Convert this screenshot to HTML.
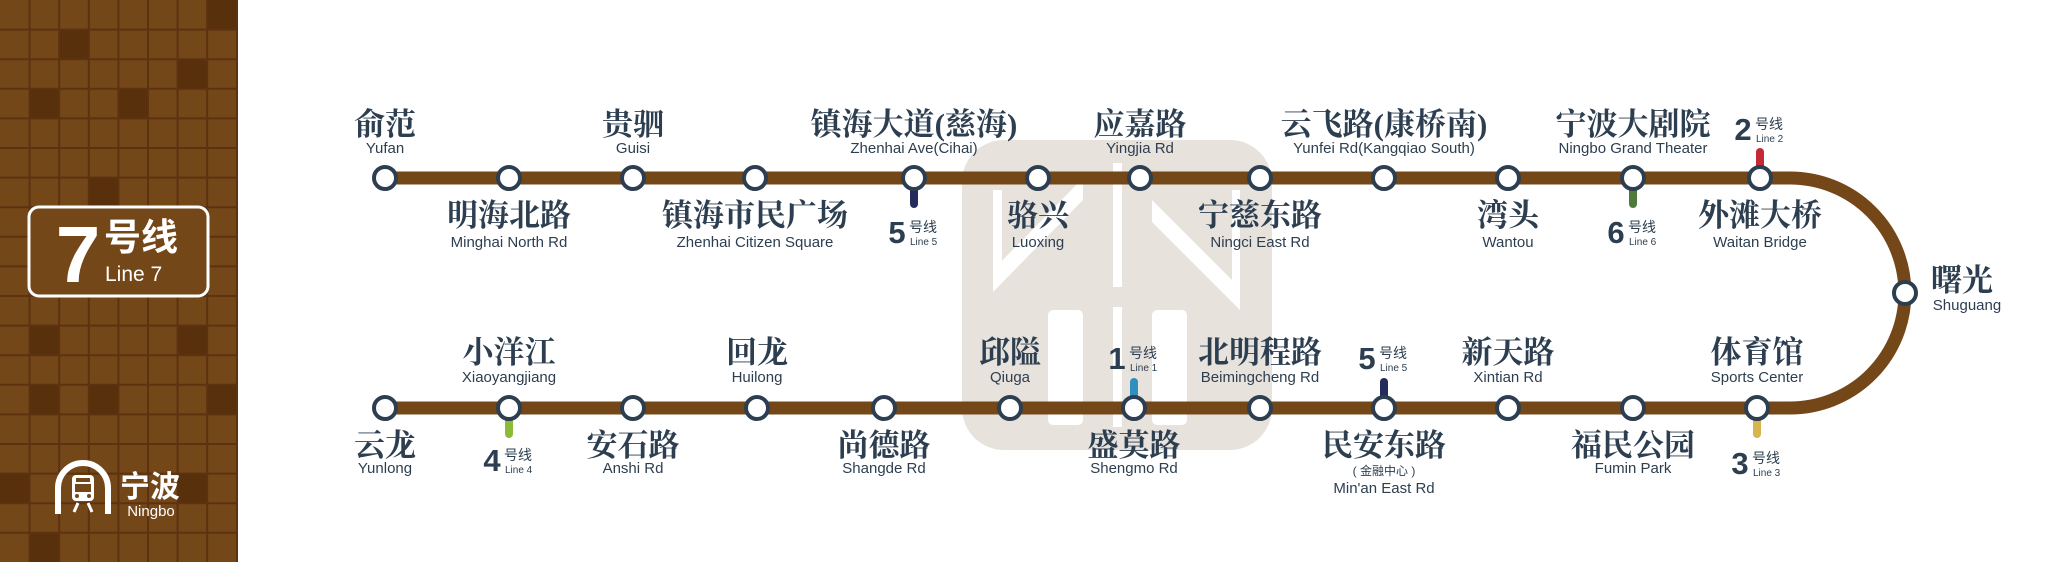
<!DOCTYPE html>
<html><head><meta charset="utf-8"><style>
html,body{margin:0;padding:0;background:#fff;}
svg{display:block}
.zh{font-family:"Liberation Serif","Noto Serif CJK SC",serif;font-weight:700;font-size:31px;fill:#2c3e50;text-anchor:middle}
.en{font-family:"Liberation Sans Narrow","Liberation Sans",sans-serif;font-size:15px;fill:#2c3e50;text-anchor:middle}
.dg{font-family:"Liberation Sans",sans-serif;font-weight:700;font-size:31px;fill:#2c3e50;text-anchor:middle}
.hx{font-family:"Liberation Sans","Noto Sans CJK SC",sans-serif;font-size:14px;fill:#2c3e50}
.ln{font-family:"Liberation Sans Narrow","Liberation Sans",sans-serif;font-size:10px;fill:#2c3e50}
</style></head><body>
<svg width="2048" height="562" viewBox="0 0 2048 562" xmlns="http://www.w3.org/2000/svg">
<rect x="0" y="0" width="238" height="562" fill="#744719"/>
<g fill="#58300c">
<rect x="207" y="0" width="30" height="30"/>
<rect x="59" y="30" width="30" height="30"/>
<rect x="178" y="59" width="30" height="30"/>
<rect x="30" y="89" width="30" height="30"/>
<rect x="118" y="89" width="30" height="30"/>
<rect x="89" y="178" width="30" height="30"/>
<rect x="30" y="326" width="30" height="30"/>
<rect x="178" y="326" width="30" height="30"/>
<rect x="30" y="385" width="30" height="30"/>
<rect x="89" y="385" width="30" height="30"/>
<rect x="207" y="385" width="30" height="30"/>
<rect x="0" y="474" width="30" height="30"/>
<rect x="178" y="474" width="30" height="30"/>
<rect x="30" y="533" width="30" height="30"/>
</g>
<g stroke="#5c3210" stroke-width="2">
<line x1="29.6" y1="0" x2="29.6" y2="562"/><line x1="59.2" y1="0" x2="59.2" y2="562"/><line x1="88.8" y1="0" x2="88.8" y2="562"/><line x1="118.4" y1="0" x2="118.4" y2="562"/><line x1="148" y1="0" x2="148" y2="562"/><line x1="177.6" y1="0" x2="177.6" y2="562"/><line x1="207.2" y1="0" x2="207.2" y2="562"/><line x1="237" y1="0" x2="237" y2="562"/>
<line x1="0" y1="29.6" x2="238" y2="29.6"/><line x1="0" y1="59.2" x2="238" y2="59.2"/><line x1="0" y1="88.8" x2="238" y2="88.8"/><line x1="0" y1="118.4" x2="238" y2="118.4"/><line x1="0" y1="148" x2="238" y2="148"/><line x1="0" y1="177.6" x2="238" y2="177.6"/><line x1="0" y1="207.2" x2="238" y2="207.2"/><line x1="0" y1="236.8" x2="238" y2="236.8"/><line x1="0" y1="266.4" x2="238" y2="266.4"/><line x1="0" y1="296" x2="238" y2="296"/><line x1="0" y1="325.6" x2="238" y2="325.6"/><line x1="0" y1="355.2" x2="238" y2="355.2"/><line x1="0" y1="384.8" x2="238" y2="384.8"/><line x1="0" y1="414.4" x2="238" y2="414.4"/><line x1="0" y1="444" x2="238" y2="444"/><line x1="0" y1="473.6" x2="238" y2="473.6"/><line x1="0" y1="503.2" x2="238" y2="503.2"/><line x1="0" y1="532.8" x2="238" y2="532.8"/>
</g>
<rect x="29" y="207" width="179" height="89" rx="10" fill="#744719" stroke="#fff" stroke-width="3"/>
<text x="78" y="282" font-family="Liberation Sans,sans-serif" font-weight="700" font-size="80" fill="#fff" text-anchor="middle">7</text>
<text x="104" y="250" font-family="Liberation Sans,'Noto Sans CJK SC',sans-serif" font-weight="700" font-size="37" fill="#fff">号线</text>
<text x="105" y="281" font-family="Liberation Sans,sans-serif" font-size="21" fill="#fff">Line 7</text>
<path d="M58 514 V488 A25 25 0 0 1 108 488 V514" fill="none" stroke="#fff" stroke-width="6"/>
<rect x="72" y="475" width="22" height="26" rx="4" fill="#fff"/>
<rect x="76" y="478" width="14" height="4" fill="#744719"/>
<rect x="75" y="484" width="16" height="8" fill="#744719"/>
<circle cx="77" cy="496" r="2" fill="#744719"/><circle cx="89" cy="496" r="2" fill="#744719"/>
<path d="M74 512 L78 503 M92 512 L88 503" stroke="#fff" stroke-width="3"/>
<text x="150" y="497" font-family="Liberation Sans,'Noto Sans CJK SC',sans-serif" font-weight="700" font-size="30" fill="#fff" text-anchor="middle">宁波</text>
<text x="151" y="516" font-family="Liberation Sans,sans-serif" font-size="15" fill="#fff" text-anchor="middle">Ningbo</text>

<!-- watermark -->
<rect x="962" y="140" width="310" height="310" rx="42" fill="#e7e2dc"/>
<g fill="#fff">
<rect x="1113" y="163" width="9" height="124"/>
<rect x="1113" y="307" width="9" height="120"/>
<polygon points="993,270 1083,178 1083,200 993,292"/>
<polygon points="1152,200 1240,288 1240,310 1152,222"/>
<rect x="1048" y="310" width="35" height="115" rx="5"/>
<rect x="1152" y="310" width="35" height="115" rx="5"/>
<rect x="993" y="190" width="9" height="80"/>
<rect x="1232" y="190" width="8" height="98"/>
</g>

<path d="M385 178 H1790 A115 115 0 0 1 1790 408 H385" fill="none" stroke="#744719" stroke-width="13"/>

<g stroke-linecap="round" stroke-width="8">
<line x1="914" y1="190" x2="914" y2="204" stroke="#242c5c"/>
<line x1="1633" y1="190" x2="1633" y2="204" stroke="#4e7a3c"/>
<line x1="1760" y1="152" x2="1760" y2="166" stroke="#c42a36"/>
<line x1="509" y1="420" x2="509" y2="434" stroke="#8cbb3c"/>
<line x1="1134" y1="382" x2="1134" y2="396" stroke="#2f8fbf"/>
<line x1="1384" y1="382" x2="1384" y2="396" stroke="#242c5c"/>
<line x1="1757" y1="420" x2="1757" y2="434" stroke="#d6b550"/>
</g>

<g fill="#fff" stroke="#2c3e50" stroke-width="4">
<circle cx="385" cy="178" r="11"/><circle cx="509" cy="178" r="11"/><circle cx="633" cy="178" r="11"/><circle cx="755" cy="178" r="11"/><circle cx="914" cy="178" r="11"/><circle cx="1038" cy="178" r="11"/><circle cx="1140" cy="178" r="11"/><circle cx="1260" cy="178" r="11"/><circle cx="1384" cy="178" r="11"/><circle cx="1508" cy="178" r="11"/><circle cx="1633" cy="178" r="11"/><circle cx="1760" cy="178" r="11"/>
<circle cx="1905" cy="293" r="11"/>
<circle cx="385" cy="408" r="11"/><circle cx="509" cy="408" r="11"/><circle cx="633" cy="408" r="11"/><circle cx="757" cy="408" r="11"/><circle cx="884" cy="408" r="11"/><circle cx="1010" cy="408" r="11"/><circle cx="1134" cy="408" r="11"/><circle cx="1260" cy="408" r="11"/><circle cx="1384" cy="408" r="11"/><circle cx="1508" cy="408" r="11"/><circle cx="1633" cy="408" r="11"/><circle cx="1757" cy="408" r="11"/>
</g>

<text class="zh" x="385" y="135">俞范</text><text class="en" x="385" y="153">Yufan</text>
<text class="zh" x="509" y="226">明海北路</text><text class="en" x="509" y="247">Minghai North Rd</text>
<text class="zh" x="633" y="135">贵驷</text><text class="en" x="633" y="153">Guisi</text>
<text class="zh" x="755" y="226">镇海市民广场</text><text class="en" x="755" y="247">Zhenhai Citizen Square</text>
<text class="zh" x="914" y="135">镇海大道(慈海)</text><text class="en" x="914" y="153">Zhenhai Ave(Cihai)</text>
<text class="zh" x="1038" y="226">骆兴</text><text class="en" x="1038" y="247">Luoxing</text>
<text class="zh" x="1140" y="135">应嘉路</text><text class="en" x="1140" y="153">Yingjia Rd</text>
<text class="zh" x="1260" y="226">宁慈东路</text><text class="en" x="1260" y="247">Ningci East Rd</text>
<text class="zh" x="1384" y="135">云飞路(康桥南)</text><text class="en" x="1384" y="153">Yunfei Rd(Kangqiao South)</text>
<text class="zh" x="1508" y="226">湾头</text><text class="en" x="1508" y="247">Wantou</text>
<text class="zh" x="1633" y="135">宁波大剧院</text><text class="en" x="1633" y="153">Ningbo Grand Theater</text>
<text class="zh" x="1760" y="226">外滩大桥</text><text class="en" x="1760" y="247">Waitan Bridge</text>
<text class="zh" x="1962" y="291">曙光</text><text class="en" x="1967" y="310">Shuguang</text>

<text class="zh" x="385" y="456">云龙</text><text class="en" x="385" y="473">Yunlong</text>
<text class="zh" x="509" y="363">小洋江</text><text class="en" x="509" y="382">Xiaoyangjiang</text>
<text class="zh" x="633" y="456">安石路</text><text class="en" x="633" y="473">Anshi Rd</text>
<text class="zh" x="757" y="363">回龙</text><text class="en" x="757" y="382">Huilong</text>
<text class="zh" x="884" y="456">尚德路</text><text class="en" x="884" y="473">Shangde Rd</text>
<text class="zh" x="1010" y="363">邱隘</text><text class="en" x="1010" y="382">Qiuga</text>
<text class="zh" x="1134" y="456">盛莫路</text><text class="en" x="1134" y="473">Shengmo Rd</text>
<text class="zh" x="1260" y="363">北明程路</text><text class="en" x="1260" y="382">Beimingcheng Rd</text>
<text class="zh" x="1384" y="456">民安东路</text>
<text x="1384" y="475" font-family="Liberation Sans,'Noto Sans CJK SC',sans-serif" font-size="12" fill="#2c3e50" text-anchor="middle">( 金融中心 )</text>
<text class="en" x="1384" y="493">Min'an East Rd</text>
<text class="zh" x="1508" y="363">新天路</text><text class="en" x="1508" y="382">Xintian Rd</text>
<text class="zh" x="1633" y="456">福民公园</text><text class="en" x="1633" y="473">Fumin Park</text>
<text class="zh" x="1757" y="363">体育馆</text><text class="en" x="1757" y="382">Sports Center</text>

<text class="dg" x="897" y="243">5</text><text class="hx" x="909" y="232">号线</text><text class="ln" x="910" y="245">Line 5</text>
<text class="dg" x="1616" y="243">6</text><text class="hx" x="1628" y="232">号线</text><text class="ln" x="1629" y="245">Line 6</text>
<text class="dg" x="1743" y="140">2</text><text class="hx" x="1755" y="129">号线</text><text class="ln" x="1756" y="142">Line 2</text>
<text class="dg" x="492" y="471">4</text><text class="hx" x="504" y="460">号线</text><text class="ln" x="505" y="473">Line 4</text>
<text class="dg" x="1117" y="369">1</text><text class="hx" x="1129" y="358">号线</text><text class="ln" x="1130" y="371">Line 1</text>
<text class="dg" x="1367" y="369">5</text><text class="hx" x="1379" y="358">号线</text><text class="ln" x="1380" y="371">Line 5</text>
<text class="dg" x="1740" y="474">3</text><text class="hx" x="1752" y="463">号线</text><text class="ln" x="1753" y="476">Line 3</text>
</svg>
</body></html>
